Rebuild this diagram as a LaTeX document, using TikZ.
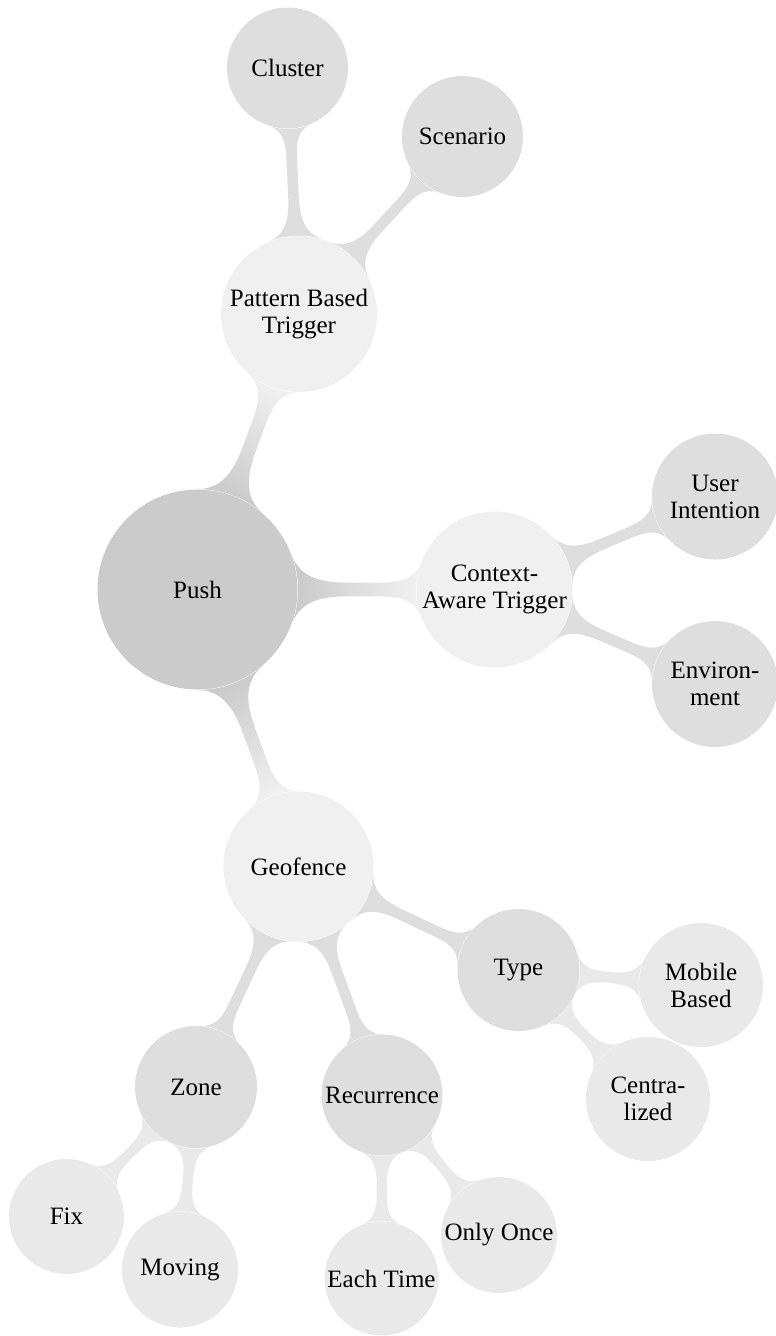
\documentclass[tikz,border=0pt]{standalone}
\usepackage{fontspec}
\setmainfont{Liberation Serif}
\usetikzlibrary{mindmap,backgrounds}
\definecolor{rootgray}{HTML}{CBCBCB}
\definecolor{onegray}{HTML}{F0F0F0}
\definecolor{twogray}{HTML}{DEDEDE}
\definecolor{threegray}{HTML}{E9E9E9}
\begin{document}
\begin{tikzpicture}[x=0.4pt,y=-0.4pt,
  idea/.style={circle, inner sep=0pt, align=center, text=black,
    font=\fontsize{10}{10.8}\selectfont},
  rootidea/.style={idea, fill=rootgray, minimum size=80pt},
  oneidea/.style={idea, fill=onegray, minimum size=62pt},
  twoidea/.style={idea, fill=twogray, minimum size=48.4pt},
  threeidea/.style={idea, fill=threegray, minimum size=46pt},
  rootbar/.style={line width=5.6pt},
  onebar/.style={line width=4.4pt},
  twobar/.style={line width=4pt}]
\useasboundingbox (0,0) rectangle (775,1336);

% concepts
\node[rootidea] (push) at (197.5,589.5) {Push};

\node[oneidea, minimum size=62.4pt] (pattern) at (299,314) {Pattern Based\\Trigger};
\node[oneidea, minimum size=62.4pt] (context) at (494.5,589.5) {Context-\\Aware Trigger};
\node[oneidea, minimum size=60pt] (geofence) at (298.5,866.5) {Geofence};

\node[twoidea] (cluster) at (287.5,68) {Cluster};
\node[twoidea] (scenario) at (462.5,136.5) {Scenario};
\node[twoidea, minimum size=50.4pt] (userint) at (715,496.5) {User\\Intention};
\node[twoidea, minimum size=50.4pt] (environ) at (715,684) {Environ-\\ment};
\node[twoidea, minimum size=48.8pt] (type) at (518.5,970) {Type};
\node[twoidea, minimum size=48.8pt] (zone) at (196,1087) {Zone};
\node[twoidea] (recur) at (382,1095) {Recurrence};

\node[threeidea, minimum size=49.6pt] (mobile) at (701,985) {Mobile\\Based};
\node[threeidea, minimum size=49.6pt] (central) at (648,1099) {Centra-\\lized};
\node[threeidea] (fix) at (66.5,1216.5) {Fix};
\node[threeidea, minimum size=46.4pt] (moving) at (180,1269.5) {Moving};
\node[threeidea, minimum size=45.6pt] (eachtime) at (381.5,1278.5) {Each Time};
\node[threeidea, minimum size=46.4pt] (onlyonce) at (499,1235) {Only Once};

% connection bars
\begin{scope}[on background layer]
  \path[rootbar] (push) to[circle connection bar switch color=from (rootgray) to (onegray)] (pattern);
  \path[rootbar] (push) to[circle connection bar switch color=from (rootgray) to (onegray)] (context);
  \path[rootbar] (push) to[circle connection bar switch color=from (rootgray) to (onegray)] (geofence);

  \path[onebar] (pattern) to[circle connection bar switch color=from (twogray) to (twogray)] (cluster);
  \path[onebar] (pattern) to[circle connection bar switch color=from (twogray) to (twogray)] (scenario);
  \path[onebar] (context) to[circle connection bar switch color=from (twogray) to (twogray)] (userint);
  \path[onebar] (context) to[circle connection bar switch color=from (twogray) to (twogray)] (environ);
  \path[onebar] (geofence) to[circle connection bar switch color=from (twogray) to (twogray)] (type);
  \path[onebar] (geofence) to[circle connection bar switch color=from (twogray) to (twogray)] (zone);
  \path[onebar] (geofence) to[circle connection bar switch color=from (twogray) to (twogray)] (recur);

  \path[twobar] (type) to[circle connection bar switch color=from (threegray) to (threegray)] (mobile);
  \path[twobar] (type) to[circle connection bar switch color=from (threegray) to (threegray)] (central);
  \path[twobar] (zone) to[circle connection bar switch color=from (threegray) to (threegray)] (fix);
  \path[twobar] (zone) to[circle connection bar switch color=from (threegray) to (threegray)] (moving);
  \path[twobar] (recur) to[circle connection bar switch color=from (threegray) to (threegray)] (eachtime);
  \path[twobar] (recur) to[circle connection bar switch color=from (threegray) to (threegray)] (onlyonce);
\end{scope}
\end{tikzpicture}
\end{document}
